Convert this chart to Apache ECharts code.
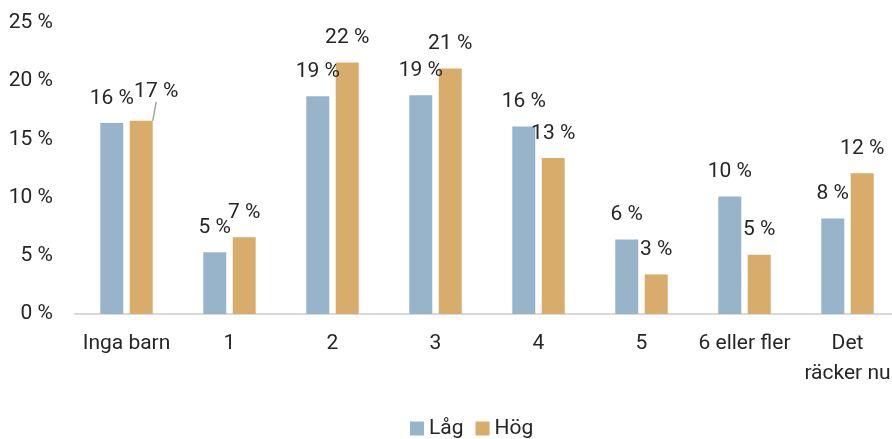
<!DOCTYPE html>
<html>
<head>
<meta charset="utf-8">
<script src="https://cdn.jsdelivr.net/npm/echarts@6/dist/echarts.min.js"></script>
<style>
html,body{margin:0;padding:0;background:#fff;}
#chart{width:892px;height:439px;}
</style>
</head>
<body>
<div id="chart"></div>
<script>
const categories = ['Inga barn', '1', '2', '3', '4', '5', '6 eller fler', 'Det\nräcker nu'];
const seriesNames = ['Låg', 'Hög'];
const lagValues = [16.4, 5.3, 18.7, 18.8, 16.1, 6.4, 10.1, 8.2];
const hogValues = [16.6, 6.6, 21.6, 21.1, 13.4, 3.4, 5.1, 12.1];
const yTicks = [0, 5, 10, 15, 20, 25];

const FONT = 'Roboto';
const TXT = '#262626';
const chart = echarts.init(document.getElementById('chart'), null, {renderer: 'canvas'});

const labelCfg = {
  show: true,
  position: 'top',
  distance: 14,
  fontFamily: FONT,
  fontSize: 21,
  color: TXT,
  formatter: p => Math.round(p.value) + ' %'
};

const hogData = hogValues.map((v, i) => i === 0 ? {value: v, labelLine: {show: true}} : v);

chart.setOption({
  animation: false,
  textStyle: {fontFamily: FONT},
  grid: {left: 75, width: 824, top: 23, bottom: 125, containLabel: false, outerBoundsMode: 'none'},
  legend: {
    data: seriesNames,
    left: 405,
    top: 413,
    icon: 'rect',
    itemWidth: 14,
    itemHeight: 14,
    itemGap: 12,
    textStyle: {fontFamily: FONT, fontSize: 21, color: TXT}
  },
  xAxis: {
    type: 'category',
    data: categories,
    axisLine: {lineStyle: {color: '#d9d9d9', width: 2}},
    axisTick: {show: false},
    axisLabel: {fontFamily: FONT, fontSize: 21, color: TXT, margin: 15, lineHeight: 30, interval: 0}
  },
  yAxis: {
    type: 'value',
    min: yTicks[0],
    max: yTicks[yTicks.length - 1],
    interval: 5,
    splitLine: {show: false},
    axisLine: {show: false},
    axisTick: {show: false},
    axisLabel: {fontFamily: FONT, fontSize: 21, color: TXT, margin: 22, formatter: '{value} %'}
  },
  series: [
    {
      name: seriesNames[0],
      type: 'bar',
      data: lagValues,
      barWidth: 23,
      barGap: '28%',
      itemStyle: {color: '#98B4CB'},
      label: labelCfg
    },
    {
      name: seriesNames[1],
      type: 'bar',
      data: hogData,
      barWidth: 23,
      itemStyle: {color: '#D8AD6B'},
      label: labelCfg,
      labelLine: {show: false, lineStyle: {color: '#a6a6a6', width: 1.5}},
      labelLayout: function (p) {
        if (p.dataIndex === 0) return {dx: 15, dy: -5};
        return {};
      }
    }
  ]
});
</script>
</body>
</html>
